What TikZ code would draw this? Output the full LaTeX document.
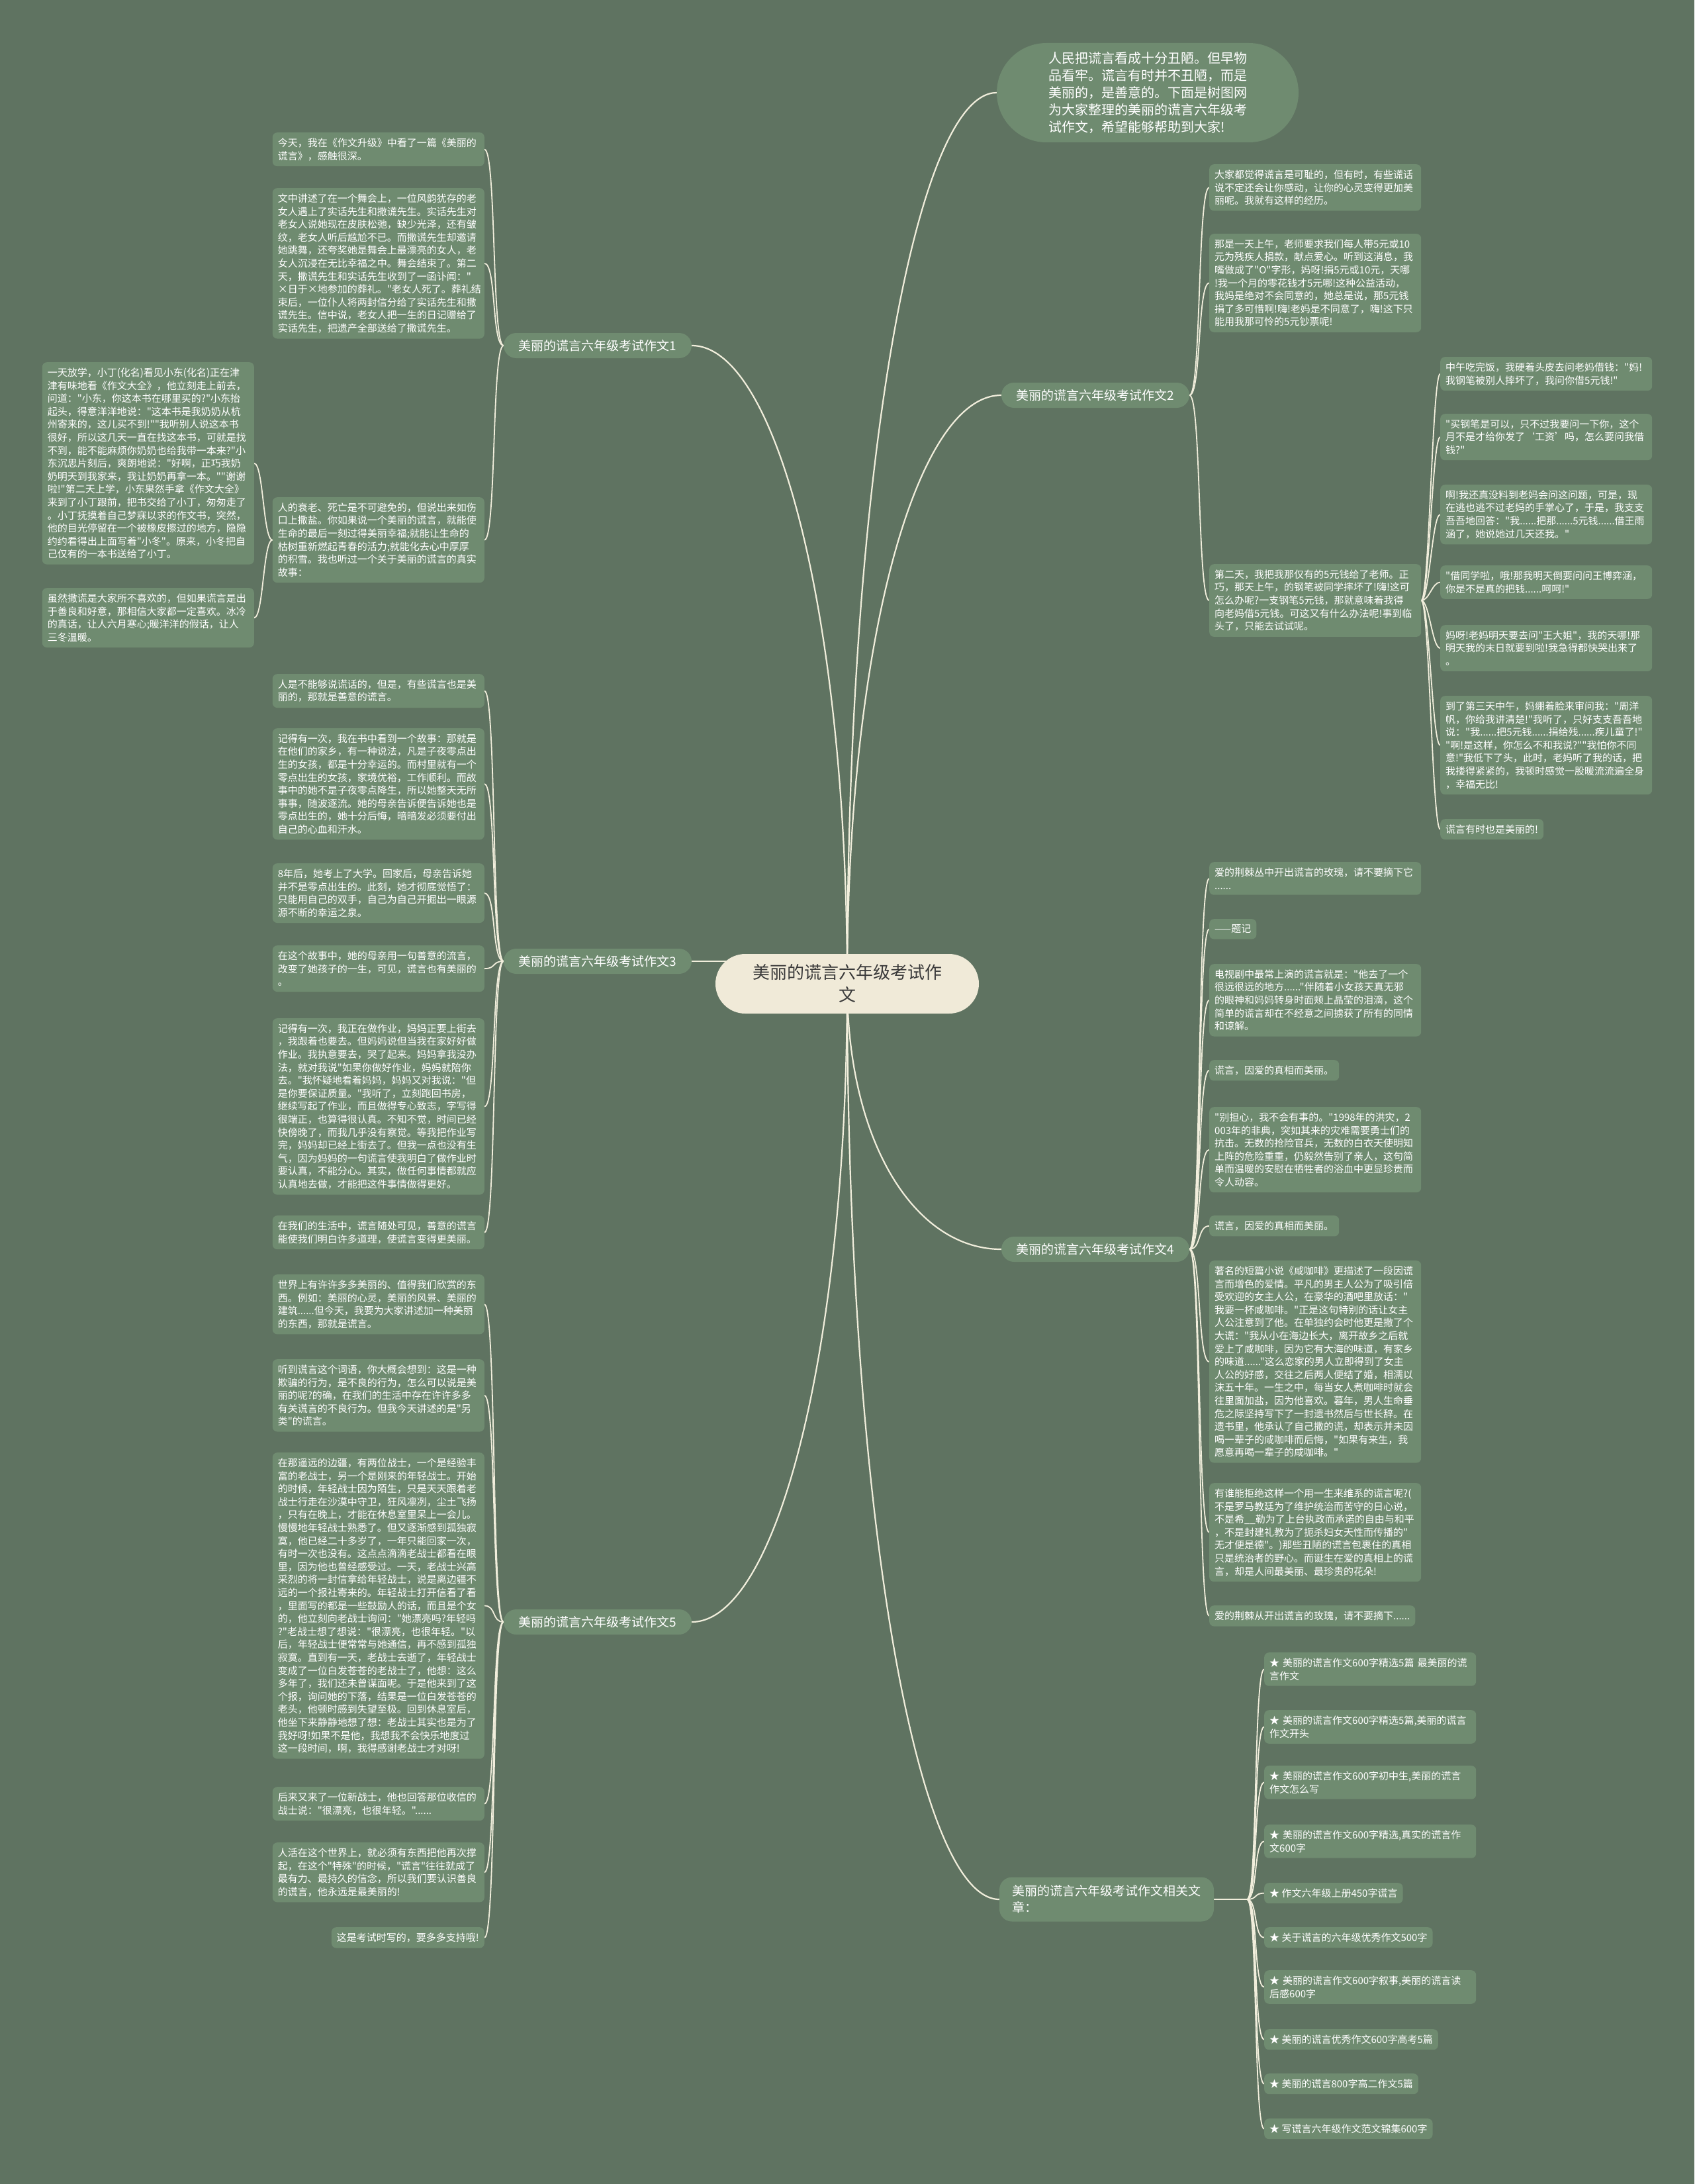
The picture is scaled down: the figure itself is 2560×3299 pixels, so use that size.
\documentclass[tikz,border=0pt]{standalone}
\usepackage{fontspec}
\defaultfontfeatures[\rmfamily,\sffamily]{}
\setmainfont{Noto Sans CJK SC}
\definecolor{bgc}{HTML}{5F7361}
\definecolor{leafc}{HTML}{6F8B70}
\definecolor{linec}{HTML}{F1EEDC}
\definecolor{centerc}{HTML}{F0EAD8}
\definecolor{ctext}{HTML}{3A3A3A}
\pgfdeclarelayer{bg}
\pgfsetlayers{bg,main}
\tikzset{
  leaf/.style={fill=leafc, rounded corners=7pt, text=white, font=\fontsize{15pt}{19.6pt}\selectfont, inner xsep=8pt, inner ysep=8.5pt, align=left},
  wide/.style={leaf, text width=304pt},
  branch/.style={fill=leafc, rounded corners=19pt, text=white, font=\fontsize{19pt}{25pt}\selectfont, minimum height=38pt, minimum width=284pt, inner xsep=18pt, inner ysep=4pt},
  centernode/.style={fill=centerc, rounded corners=45pt, text=ctext, font=\fontsize{26pt}{34pt}\selectfont, minimum width=398pt, minimum height=90pt, align=center},
  intronode/.style={fill=leafc, rounded corners=75pt, text=white, font=\fontsize{20pt}{26pt}\selectfont, minimum width=456pt, minimum height=150pt, align=left},
  mainline/.style={draw=linec, line width=2.2pt},
  brk/.style={draw=linec, line width=1.8pt},
}
\begin{document}
\begin{tikzpicture}[x=1pt,y=-1pt]
\useasboundingbox (0,0) rectangle (2560,3299);

% centre and intro
\node[centernode] (c) at (1280,1486) {美丽的谎言六年级考试作\\文};
\node[intronode] (intro) at (1734,140) {人民把谎言看成十分丑陋。但早物\\品看牢。谎言有时并不丑陋，而是\\美丽的，是善意的。下面是树图网\\为大家整理的美丽的谎言六年级考\\试作文，希望能够帮助到大家!};

% branches
\node[branch] (b1) at (903,522) {美丽的谎言六年级考试作文1};
\node[branch] (b3) at (903,1452) {美丽的谎言六年级考试作文3};
\node[branch] (b5) at (903,2450) {美丽的谎言六年级考试作文5};
\node[branch] (b2) at (1655,597) {美丽的谎言六年级考试作文2};
\node[branch] (b4) at (1655,1887) {美丽的谎言六年级考试作文4};
\node[branch, align=left, minimum width=324pt, minimum height=67pt] (b6) at (1672,2869) {美丽的谎言六年级考试作文相关文\\章：};

% branch 1
\node[wide, anchor=north east] (l1a) at (732,200) {今天，我在《作文升级》中看了一篇《美丽的\\谎言》，感触很深。};
\node[wide, anchor=north east] (l1b) at (732,284) {文中讲述了在一个舞会上，一位风韵犹存的老\\女人遇上了实话先生和撒谎先生。实话先生对\\老女人说她现在皮肤松弛，缺少光泽，还有皱\\纹，老女人听后尴尬不已。而撒谎先生却邀请\\她跳舞，还夸奖她是舞会上最漂亮的女人，老\\女人沉浸在无比幸福之中。舞会结束了。第二\\天，撒谎先生和实话先生收到了一函讣闻："\\×日于×地参加的葬礼。"老女人死了。葬礼结\\束后，一位仆人将两封信分给了实话先生和撒\\谎先生。信中说，老女人把一生的日记赠给了\\实话先生，把遗产全部送给了撒谎先生。};
\node[wide, anchor=north east] (l1c) at (732,751) {人的衰老、死亡是不可避免的，但说出来如伤\\口上撒盐。你如果说一个美丽的谎言，就能使\\生命的最后一刻过得美丽幸福;就能让生命的\\枯树重新燃起青春的活力;就能化去心中厚厚\\的积雪。我也听过一个关于美丽的谎言的真实\\故事：};
\node[wide, anchor=north east] (f1) at (384,547) {一天放学，小丁(化名)看见小东(化名)正在津\\津有味地看《作文大全》，他立刻走上前去，\\问道："小东，你这本书在哪里买的?"小东抬\\起头，得意洋洋地说："这本书是我奶奶从杭\\州寄来的，这儿买不到!""我听别人说这本书\\很好，所以这几天一直在找这本书，可就是找\\不到，能不能麻烦你奶奶也给我带一本来?"小\\东沉思片刻后，爽朗地说："好啊，正巧我奶\\奶明天到我家来，我让奶奶再拿一本。""谢谢\\啦!"第二天上学，小东果然手拿《作文大全》\\来到了小丁跟前，把书交给了小丁，匆匆走了\\。小丁抚摸着自己梦寐以求的作文书，突然，\\他的目光停留在一个被橡皮擦过的地方，隐隐\\约约看得出上面写着"小冬"。原来，小冬把自\\己仅有的一本书送给了小丁。};
\node[wide, anchor=north east] (f2) at (384,888) {虽然撒谎是大家所不喜欢的，但如果谎言是出\\于善良和好意，那相信大家都一定喜欢。冰冷\\的真话，让人六月寒心;暖洋洋的假话，让人\\三冬温暖。};

% branch 3
\node[wide, anchor=north east] (l3a) at (732,1018) {人是不能够说谎话的，但是，有些谎言也是美\\丽的，那就是善意的谎言。};
\node[wide, anchor=north east] (l3b) at (732,1100) {记得有一次，我在书中看到一个故事：那就是\\在他们的家乡，有一种说法，凡是子夜零点出\\生的女孩，都是十分幸运的。而村里就有一个\\零点出生的女孩，家境优裕，工作顺利。而故\\事中的她不是子夜零点降生，所以她整天无所\\事事，随波逐流。她的母亲告诉便告诉她也是\\零点出生的，她十分后悔，暗暗发必须要付出\\自己的心血和汗水。};
\node[wide, anchor=north east] (l3c) at (732,1304) {8年后，她考上了大学。回家后，母亲告诉她\\并不是零点出生的。此刻，她才彻底觉悟了：\\只能用自己的双手，自己为自己开掘出一眼源\\源不断的幸运之泉。};
\node[wide, anchor=north east] (l3d) at (732,1428) {在这个故事中，她的母亲用一句善意的流言，\\改变了她孩子的一生，可见，谎言也有美丽的\\。};
\node[wide, anchor=north east] (l3e) at (732,1538) {记得有一次，我正在做作业，妈妈正要上街去\\，我跟着也要去。但妈妈说但当我在家好好做\\作业。我执意要去，哭了起来。妈妈拿我没办\\法，就对我说"如果你做好作业，妈妈就陪你\\去。"我怀疑地看着妈妈，妈妈又对我说："但\\是你要保证质量。"我听了，立刻跑回书房，\\继续写起了作业，而且做得专心致志，字写得\\很端正，也算得很认真。不知不觉，时间已经\\快傍晚了，而我几乎没有察觉。等我把作业写\\完，妈妈却已经上街去了。但我一点也没有生\\气，因为妈妈的一句谎言使我明白了做作业时\\要认真，不能分心。其实，做任何事情都就应\\认真地去做，才能把这件事情做得更好。};
\node[wide, anchor=north east] (l3f) at (732,1836) {在我们的生活中，谎言随处可见，善意的谎言\\能使我们明白许多道理，使谎言变得更美丽。};

% branch 5
\node[wide, anchor=north east] (l5a) at (732,1925) {世界上有许许多多美丽的、值得我们欣赏的东\\西。例如：美丽的心灵，美丽的风景、美丽的\\建筑......但今天，我要为大家讲述加一种美丽\\的东西，那就是谎言。};
\node[wide, anchor=north east] (l5b) at (732,2053) {听到谎言这个词语，你大概会想到：这是一种\\欺骗的行为，是不良的行为，怎么可以说是美\\丽的呢?的确，在我们的生活中存在许许多多\\有关谎言的不良行为。但我今天讲述的是"另\\类"的谎言。};
\node[wide, anchor=north east] (l5c) at (732,2194) {在那遥远的边疆，有两位战士，一个是经验丰\\富的老战士，另一个是刚来的年轻战士。开始\\的时候，年轻战士因为陌生，只是天天跟着老\\战士行走在沙漠中守卫，狂风凛冽，尘土飞扬\\，只有在晚上，才能在休息室里呆上一会儿。\\慢慢地年轻战士熟悉了。但又逐渐感到孤独寂\\寞，他已经二十多岁了，一年只能回家一次，\\有时一次也没有。这点点滴滴老战士都看在眼\\里，因为他也曾经感受过。一天，老战士兴高\\采烈的将一封信拿给年轻战士，说是离边疆不\\远的一个报社寄来的。年轻战士打开信看了看\\，里面写的都是一些鼓励人的话，而且是个女\\的，他立刻向老战士询问："她漂亮吗?年轻吗\\?"老战士想了想说："很漂亮，也很年轻。"以\\后，年轻战士便常常与她通信，再不感到孤独\\寂寞。直到有一天，老战士去逝了，年轻战士\\变成了一位白发苍苍的老战士了，他想：这么\\多年了，我们还未曾谋面呢。于是他来到了这\\个报，询问她的下落，结果是一位白发苍苍的\\老头，他顿时感到失望至极。回到休息室后，\\他坐下来静静地想了想：老战士其实也是为了\\我好呀!如果不是他，我想我不会快乐地度过\\这一段时间，啊，我得感谢老战士才对呀!};
\node[wide, anchor=north east] (l5d) at (732,2699) {后来又来了一位新战士，他也回答那位收信的\\战士说："很漂亮，也很年轻。"......};
\node[wide, anchor=north east] (l5e) at (732,2783) {人活在这个世界上，就必须有东西把他再次撑\\起，在这个"特殊"的时候，"谎言"往往就成了\\最有力、最持久的信念，所以我们要认识善良\\的谎言，他永远是最美丽的!};
\node[leaf, anchor=north east] (l5f) at (732,2911) {这是考试时写的，要多多支持哦!};

% branch 2
\node[wide, anchor=north west] (r2a) at (1827,248) {大家都觉得谎言是可耻的，但有时，有些谎话\\说不定还会让你感动，让你的心灵变得更加美\\丽呢。我就有这样的经历。};
\node[wide, anchor=north west] (r2b) at (1827,353) {那是一天上午，老师要求我们每人带5元或10\\元为残疾人捐款，献点爱心。听到这消息，我\\嘴做成了"O"字形，妈呀!捐5元或10元，天哪\\!我一个月的零花钱才5元哪!这种公益活动，\\我妈是绝对不会同意的，她总是说，那5元钱\\捐了多可惜啊!嗨!老妈是不同意了，嗨!这下只\\能用我那可怜的5元钞票呢!};
\node[wide, anchor=north west] (r2c) at (1827,852) {第二天，我把我那仅有的5元钱给了老师。正\\巧，那天上午，的钢笔被同学摔坏了!嗨!这可\\怎么办呢?一支钢笔5元钱，那就意味着我得\\向老妈借5元钱。可这又有什么办法呢!事到临\\头了，只能去试试呢。};
\node[wide, anchor=north west] (fr1) at (2176,539) {中午吃完饭，我硬着头皮去问老妈借钱："妈!\\我钢笔被别人摔坏了，我问你借5元钱!"};
\node[wide, anchor=north west] (fr2) at (2176,625) {"买钢笔是可以，只不过我要问一下你，这个\\月不是才给你发了‘工资’吗，怎么要问我借\\钱?"};
\node[wide, anchor=north west] (fr3) at (2176,732) {啊!我还真没料到老妈会问这问题，可是，现\\在逃也逃不过老妈的手掌心了，于是，我支支\\吾吾地回答："我......把那......5元钱......借王雨\\涵了，她说她过几天还我。"};
\node[wide, anchor=north west] (fr4) at (2176,854) {"借同学啦，哦!那我明天倒要问问王博弈涵，\\你是不是真的把钱......呵呵!"};
\node[wide, anchor=north west] (fr5) at (2176,944) {妈呀!老妈明天要去问"王大姐"，我的天哪!那\\明天我的末日就要到啦!我急得都快哭出来了\\。};
\node[wide, anchor=north west] (fr6) at (2176,1051) {到了第三天中午，妈绷着脸来审问我："周洋\\帆，你给我讲清楚!"我听了，只好支支吾吾地\\说："我......把5元钱......捐给残......疾儿童了!"\\"啊!是这样，你怎么不和我说?""我怕你不同\\意!"我低下了头，此时，老妈听了我的话，把\\我搂得紧紧的，我顿时感觉一股暖流流遍全身\\，幸福无比!};
\node[leaf, anchor=north west] (fr7) at (2176,1237) {谎言有时也是美丽的!};

% branch 4
\node[wide, anchor=north west] (r4a) at (1827,1302) {爱的荆棘丛中开出谎言的玫瑰，请不要摘下它\\......};
\node[leaf, anchor=north west] (r4b) at (1827,1388) {——题记};
\node[wide, anchor=north west] (r4c) at (1827,1456) {电视剧中最常上演的谎言就是："他去了一个\\很远很远的地方......"伴随着小女孩天真无邪\\的眼神和妈妈转身时面颊上晶莹的泪滴，这个\\简单的谎言却在不经意之间掳获了所有的同情\\和谅解。};
\node[leaf, anchor=north west] (r4d) at (1827,1601) {谎言，因爱的真相而美丽。};
\node[wide, anchor=north west] (r4e) at (1827,1672) {"别担心，我不会有事的。"1998年的洪灾，2\\003年的非典，突如其来的灾难需要勇士们的\\抗击。无数的抢险官兵，无数的白衣天使明知\\上阵的危险重重，仍毅然告别了亲人，这句简\\单而温暖的安慰在牺牲者的浴血中更显珍贵而\\令人动容。};
\node[leaf, anchor=north west] (r4f) at (1827,1836) {谎言，因爱的真相而美丽。};
\node[wide, anchor=north west] (r4g) at (1827,1904) {著名的短篇小说《咸咖啡》更描述了一段因谎\\言而增色的爱情。平凡的男主人公为了吸引倍\\受欢迎的女主人公，在豪华的酒吧里放话："\\我要一杯咸咖啡。"正是这句特别的话让女主\\人公注意到了他。在单独约会时他更是撒了个\\大谎："我从小在海边长大，离开故乡之后就\\爱上了咸咖啡，因为它有大海的味道，有家乡\\的味道......"这么恋家的男人立即得到了女主\\人公的好感，交往之后两人便结了婚，相濡以\\沫五十年。一生之中，每当女人煮咖啡时就会\\往里面加盐，因为他喜欢。暮年，男人生命垂\\危之际坚持写下了一封遗书然后与世长辞。在\\遗书里，他承认了自己撒的谎，却表示并未因\\喝一辈子的咸咖啡而后悔，"如果有来生，我\\愿意再喝一辈子的咸咖啡。"};
\node[wide, anchor=north west] (r4h) at (1827,2240) {有谁能拒绝这样一个用一生来维系的谎言呢?(\\不是罗马教廷为了维护统治而苦守的日心说，\\不是希\_\_勒为了上台执政而承诺的自由与和平\\，不是封建礼教为了扼杀妇女天性而传播的"\\无才便是德"。)那些丑陋的谎言包裹住的真相\\只是统治者的野心。而诞生在爱的真相上的谎\\言，却是人间最美丽、最珍贵的花朵!};
\node[leaf, anchor=north west] (r4i) at (1827,2425) {爱的荆棘从开出谎言的玫瑰，请不要摘下......};

% related
\node[wide, anchor=north west] (k1) at (1910,2496) {★~美丽的谎言作文600字精选5篇~最美丽的谎\\言作文};
\node[wide, anchor=north west] (k2) at (1910,2583) {★~美丽的谎言作文600字精选5篇,美丽的谎言\\作文开头};
\node[wide, anchor=north west] (k3) at (1910,2667) {★~美丽的谎言作文600字初中生,美丽的谎言\\作文怎么写};
\node[wide, anchor=north west] (k4) at (1910,2756) {★~美丽的谎言作文600字精选,真实的谎言作\\文600字};
\node[leaf, anchor=north west] (k5) at (1910,2844) {★~作文六年级上册450字谎言};
\node[leaf, anchor=north west] (k6) at (1910,2911) {★~关于谎言的六年级优秀作文500字};
\node[wide, anchor=north west] (k7) at (1910,2976) {★~美丽的谎言作文600字叙事,美丽的谎言读\\后感600字};
\node[leaf, anchor=north west] (k8) at (1910,3065) {★~美丽的谎言优秀作文600字高考5篇};
\node[leaf, anchor=north west] (k9) at (1910,3132) {★~美丽的谎言800字高二作文5篇};
\node[leaf, anchor=north west] (k10) at (1910,3200) {★~写谎言六年级作文范文锦集600字};

\path (b6.east) ++(50,0) coordinate (b6hub);

\begin{pgfonlayer}{bg}
\fill[bgc] (0,0) rectangle (2560,3299);
\draw[mainline] (c.center) .. controls (1280,725) and (1382,140) .. (intro.west);
\draw[mainline] (c.center) .. controls (1280,935) and (1174,522) .. (b1.east);
\draw[mainline] (c.center) .. controls (1280,977) and (1383,597) .. (b2.west);
\draw[mainline] (b3.east) -- (b3.east -| c.center);
\draw[mainline] (c.center) .. controls (1280,1727) and (1383,1887) .. (b4.west);
\draw[mainline] (c.center) .. controls (1280,2036) and (1174,2450) .. (b5.east);
\draw[mainline] (c.center) .. controls (1280,2267) and (1383,2869) .. (b6.west);
\foreach \n in {l1a,l1b,l1c}
  \draw[brk] (b1.west) .. controls +(-18,0) and +(18,0) .. (\n.east);
\foreach \n in {f1,f2}
  \draw[brk] (l1c.west) .. controls +(-14,0) and +(14,0) .. (\n.east);
\foreach \n in {l3a,l3b,l3c,l3d,l3e,l3f}
  \draw[brk] (b3.west) .. controls +(-18,0) and +(18,0) .. (\n.east);
\foreach \n in {l5a,l5b,l5c,l5d,l5e,l5f}
  \draw[brk] (b5.west) .. controls +(-18,0) and +(18,0) .. (\n.east);
\foreach \n in {r2a,r2b,r2c}
  \draw[brk] (b2.east) .. controls +(18,0) and +(-18,0) .. (\n.west);
\foreach \n in {fr1,fr2,fr3,fr4,fr5,fr6,fr7}
  \draw[brk] (r2c.east) .. controls +(12,0) and +(-12,0) .. (\n.west);
\foreach \n in {r4a,r4b,r4c,r4d,r4e,r4f,r4g,r4h,r4i}
  \draw[brk] (b4.east) .. controls +(18,0) and +(-18,0) .. (\n.west);
\draw[brk] (b6.east) -- (b6hub);
\foreach \n in {k1,k2,k3,k4,k5,k6,k7,k8,k9,k10}
  \draw[brk] (b6hub) .. controls +(16,0) and +(-16,0) .. (\n.west);
\end{pgfonlayer}
\end{tikzpicture}
\end{document}
